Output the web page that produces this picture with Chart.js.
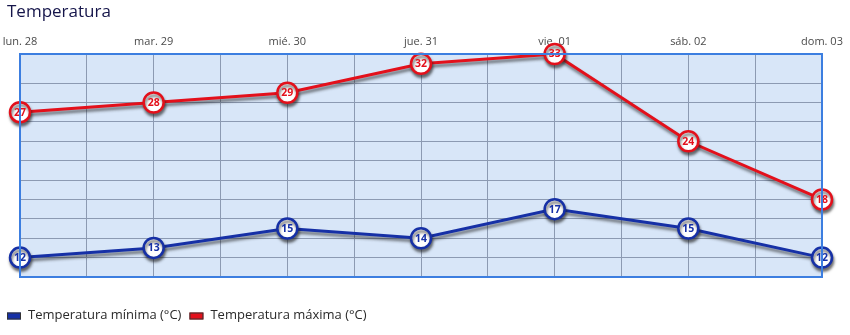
<!DOCTYPE html>
<html>
<head>
<meta charset="utf-8">
<script src="https://cdn.jsdelivr.net/npm/chart.js@4.4.1/dist/chart.umd.min.js"></script>
<style>
  html, body { margin: 0; padding: 0; background: #fff; }
  #wrap { position: relative; width: 850px; height: 335px; }
</style>
</head>
<body>
<div id="wrap"><canvas id="c" width="850" height="335"></canvas></div>
<script>
const chartTitle = 'Temperatura';
const days = ['lun. 28', 'mar. 29', 'mié. 30', 'jue. 31', 'vie. 01', 'sáb. 02', 'dom. 03'];
const tempMin = [12, 13, 15, 14, 17, 15, 12];
const tempMax = [27, 28, 29, 32, 33, 24, 18];

const BLUE = '#1630a6';
const RED = '#e3101b';
const FONT = '"Open Sans", sans-serif';

// soft drop shadow under each line and its bubbles
const shadowPlugin = {
  id: 'lineShadow',
  beforeDatasetDraw(chart) {
    const ctx = chart.ctx;
    ctx.save();
    ctx.shadowColor = 'rgba(30,30,30,0.6)';
    ctx.shadowBlur = 3;
    ctx.shadowOffsetX = 1;
    ctx.shadowOffsetY = 3;
  },
  afterDatasetDraw(chart) {
    chart.ctx.restore();
  }
};

// value written inside each point
const valuePlugin = {
  id: 'pointValues',
  afterDatasetsDraw(chart) {
    const ctx = chart.ctx;
    ctx.save();
    ctx.font = 'bold 10.5px ' + FONT;
    ctx.textAlign = 'center';
    ctx.textBaseline = 'middle';
    chart.data.datasets.forEach((ds, i) => {
      const meta = chart.getDatasetMeta(i);
      ctx.fillStyle = ds.borderColor;
      meta.data.forEach((pt, j) => {
        ctx.fillText(String(ds.data[j].y), pt.x, pt.y + 0.5);
      });
    });
    ctx.restore();
  }
};

// plot background, blue frame, heading and legend
const framePlugin = {
  id: 'plotFrame',
  beforeDraw(chart) {
    const a = chart.chartArea;
    const ctx = chart.ctx;
    ctx.save();
    ctx.fillStyle = '#d8e6f8';
    ctx.fillRect(a.left, a.top, a.right - a.left, a.bottom - a.top);

    ctx.fillStyle = '#15154a';
    ctx.font = '17px ' + FONT;
    ctx.textAlign = 'left';
    ctx.textBaseline = 'middle';
    ctx.fillText(chartTitle, 7, 12);

    ctx.font = '13px ' + FONT;
    let x = 7;
    const y = 316;
    chart.data.datasets.forEach(ds => {
      ctx.fillStyle = ds.borderColor;
      ctx.fillRect(x, y - 3.5, 14, 7);
      ctx.strokeStyle = '#333';
      ctx.lineWidth = 1;
      ctx.strokeRect(x + 0.5, y - 3, 13, 6);
      ctx.fillStyle = '#2a2a2a';
      ctx.fillText(ds.label, x + 21, y - 1);
      x += 21 + ctx.measureText(ds.label).width + 8;
    });
    ctx.restore();
  },
  afterDraw(chart) {
    const a = chart.chartArea;
    const ctx = chart.ctx;
    ctx.save();
    ctx.strokeStyle = '#3c7ee0';
    ctx.lineWidth = 2;
    ctx.strokeRect(a.left, a.top, a.right - a.left, a.bottom - a.top);
    ctx.restore();
  }
};

const toPoints = arr => arr.map((v, i) => ({ x: i, y: v }));

const seriesStyle = color => ({
  borderColor: color,
  backgroundColor: color,
  borderWidth: 3,
  pointRadius: 10,
  pointHoverRadius: 10,
  pointBorderWidth: 2.5,
  pointBackgroundColor: '#ffffff',
  pointBorderColor: color,
  tension: 0,
  clip: false
});

new Chart(document.getElementById('c'), {
  type: 'line',
  data: {
    datasets: [
      Object.assign({ label: 'Temperatura mínima (°C)', data: toPoints(tempMin) }, seriesStyle(BLUE)),
      Object.assign({ label: 'Temperatura máxima (°C)', data: toPoints(tempMax) }, seriesStyle(RED))
    ]
  },
  options: {
    responsive: false,
    animation: false,
    events: [],
    layout: { padding: { left: 0, right: 28, top: 0, bottom: 58 } },
    scales: {
      x: {
        type: 'linear',
        position: 'top',
        min: 0,
        max: days.length - 1,
        afterFit: s => { s.height = 54; s.paddingLeft = 0; s.paddingRight = 0; },
        grid: { color: '#8c9ab2', lineWidth: 1, drawTicks: false },
        border: { display: false },
        ticks: {
          stepSize: 0.5,
          autoSkip: false,
          maxRotation: 0,
          padding: 6,
          color: '#4a4a4a',
          font: { family: FONT, size: 11 },
          callback: v => Number.isInteger(v) ? days[v] : ''
        }
      },
      y: {
        min: 10,
        max: 33,
        afterFit: s => { s.width = 20; },
        grid: { color: '#8c9ab2', lineWidth: 1, drawTicks: false },
        border: { display: false },
        ticks: { display: false, stepSize: 2 }
      }
    },
    plugins: {
      title: { display: false },
      legend: { display: false },
      tooltip: { enabled: false }
    }
  },
  plugins: [framePlugin, shadowPlugin, valuePlugin]
});
</script>
</body>
</html>
